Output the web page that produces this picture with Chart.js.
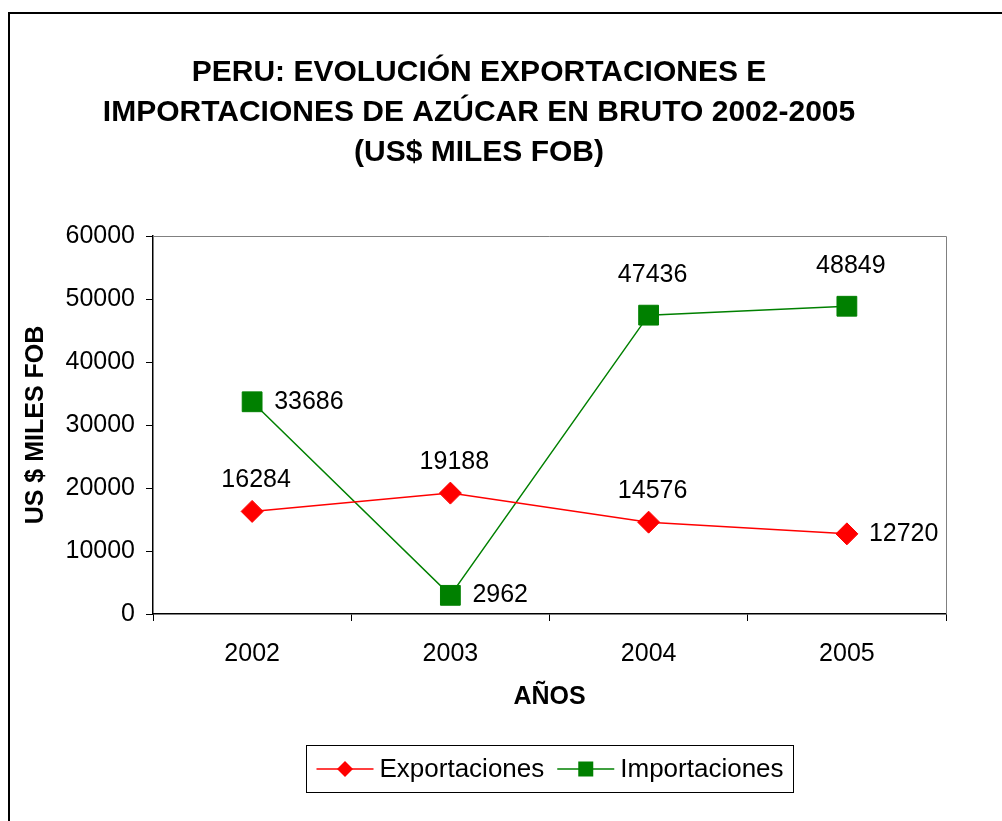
<!DOCTYPE html>
<html>
<head>
<meta charset="utf-8">
<script src="https://cdn.jsdelivr.net/npm/chart.js@4/dist/chart.umd.min.js"></script>
<style>
	html, body { margin: 0; padding: 0; background: #fff; overflow: hidden; }
	#frame { position: absolute; left: 8px; top: 12px; width: 1100px; height: 900px; border-left: 2px solid #000; border-top: 2px solid #000; }
	#chart { position: absolute; left: 0; top: 0; }
</style>
</head>
<body>
<div id="frame"></div>
<canvas id="chart" width="961" height="821"></canvas>
<script>
const years = ['2002', '2003', '2004', '2005'];
const exportaciones = [16284, 19188, 14576, 12720];
const importaciones = [33686, 2962, 47436, 48849];
const yTicks = [0, 10000, 20000, 30000, 40000, 50000, 60000];
const titleLines = ['PERU: EVOLUCIÓN EXPORTACIONES E', 'IMPORTACIONES DE AZÚCAR EN BRUTO 2002-2005', '(US$ MILES FOB)'];

// where each value label sits relative to its point
const exportLabelPos = ['top', 'top', 'top', 'right'];
const importLabelPos = ['right', 'right', 'top', 'top'];

const FONT = '"Liberation Sans", Arial, sans-serif';
const RED = '#FF0000';
const GREEN = '#008000';

const extras = {
	id: 'extras',
	afterDraw(chart) {
		const ctx = chart.ctx;
		const area = chart.chartArea;
		ctx.save();

		// plot frame top and right
		ctx.strokeStyle = '#808080';
		ctx.lineWidth = 1;
		ctx.beginPath();
		ctx.moveTo(area.left, area.top + 0.5);
		ctx.lineTo(area.right + 0.5, area.top + 0.5);
		ctx.lineTo(area.right + 0.5, area.bottom);
		ctx.stroke();

		// title
		ctx.fillStyle = '#000';
		ctx.font = 'bold 30px ' + FONT;
		ctx.textAlign = 'center';
		ctx.textBaseline = 'middle';
		titleLines.forEach((line, i) => ctx.fillText(line, 479, 73 + i * 40));

		// axis titles
		ctx.font = 'bold 25px ' + FONT;
		ctx.fillText('AÑOS', (area.left + area.right) / 2, 697);
		ctx.save();
		ctx.translate(36, (area.top + area.bottom) / 2);
		ctx.rotate(-Math.PI / 2);
		ctx.fillText('US $ MILES FOB', 0, 0);
		ctx.restore();

		// value labels
		ctx.font = '25px ' + FONT;
		const sets = [[0, exportLabelPos, 31], [1, importLabelPos, 40]];
		sets.forEach(([di, pos, up]) => {
			const meta = chart.getDatasetMeta(di);
			const values = chart.data.datasets[di].data;
			meta.data.forEach((pt, i) => {
				const txt = String(values[i]);
				if (pos[i] === 'top') {
					ctx.textAlign = 'center';
					ctx.fillText(txt, pt.x + 4, pt.y - up);
				} else {
					ctx.textAlign = 'left';
					ctx.fillText(txt, pt.x + 22, pt.y);
				}
			});
		});

		// legend
		ctx.font = '26px ' + FONT;
		const items = [
			{ text: 'Exportaciones', color: RED, style: 'diamond' },
			{ text: 'Importaciones', color: GREEN, style: 'square' }
		];
		const lineLen = 57, gap = 6, between = 13, pad = 10;
		let total = pad * 2 + between;
		items.forEach(it => { it.w = ctx.measureText(it.text).width; total += lineLen + gap + it.w; });
		const cx = (area.left + area.right) / 2;
		const boxX = Math.round(cx - total / 2) + 0.5;
		const boxY = 745.5, boxH = 47;
		ctx.strokeStyle = '#000';
		ctx.lineWidth = 1;
		ctx.strokeRect(boxX, boxY, Math.round(total), boxH);
		let x = boxX + pad;
		const ly = boxY + boxH / 2;
		items.forEach(it => {
			ctx.strokeStyle = it.color;
			ctx.fillStyle = it.color;
			ctx.lineWidth = 1.5;
			ctx.beginPath();
			ctx.moveTo(x, ly);
			ctx.lineTo(x + lineLen, ly);
			ctx.stroke();
			const mx = x + lineLen / 2;
			ctx.beginPath();
			if (it.style === 'diamond') {
				ctx.moveTo(mx, ly - 8);
				ctx.lineTo(mx + 8, ly);
				ctx.lineTo(mx, ly + 8);
				ctx.lineTo(mx - 8, ly);
				ctx.closePath();
			} else {
				ctx.rect(mx - 7.5, ly - 7.5, 15, 15);
			}
			ctx.fill();
			ctx.fillStyle = '#000';
			ctx.textAlign = 'left';
			ctx.fillText(it.text, x + lineLen + gap, ly + 1);
			x += lineLen + gap + it.w + between;
		});

		ctx.restore();
	}
};

new Chart(document.getElementById('chart'), {
	type: 'line',
	data: {
		labels: years,
		datasets: [{
			label: 'Exportaciones',
			data: exportaciones,
			borderColor: RED,
			backgroundColor: RED,
			borderWidth: 1.5,
			pointStyle: 'rectRot',
			pointRadius: 11,
			pointBorderWidth: 1,
			tension: 0
		}, {
			label: 'Importaciones',
			data: importaciones,
			borderColor: GREEN,
			backgroundColor: GREEN,
			borderWidth: 1.5,
			pointStyle: 'rect',
			pointRadius: 14,
			pointBorderWidth: 1,
			tension: 0
		}]
	},
	options: {
		responsive: false,
		animation: false,
		events: [],
		layout: {
			padding: { top: 236, right: 12, bottom: 147, left: 0 }
		},
		plugins: {
			legend: { display: false },
			title: { display: false },
			tooltip: { enabled: false }
		},
		scales: {
			x: {
				offset: true,
				grid: { offset: true, drawOnChartArea: false, drawTicks: true, tickLength: 7, color: '#000', lineWidth: 1 },
				border: { color: '#000', width: 1.5 },
				ticks: { color: '#000', font: { family: FONT, size: 25 }, padding: 18 },
				afterFit: s => { s.height = 60; }
			},
			y: {
				min: 0,
				max: 60000,
				afterBuildTicks: s => { s.ticks = yTicks.map(v => ({ value: v })); },
				grid: { drawOnChartArea: false, drawTicks: true, tickLength: 7, color: '#000', lineWidth: 1 },
				border: { color: '#000', width: 1.5 },
				ticks: { color: '#000', font: { family: FONT, size: 25 }, padding: 11, callback: v => String(v) },
				afterFit: s => { s.width = 153; }
			}
		}
	},
	plugins: [extras]
});
</script>
</body>
</html>
